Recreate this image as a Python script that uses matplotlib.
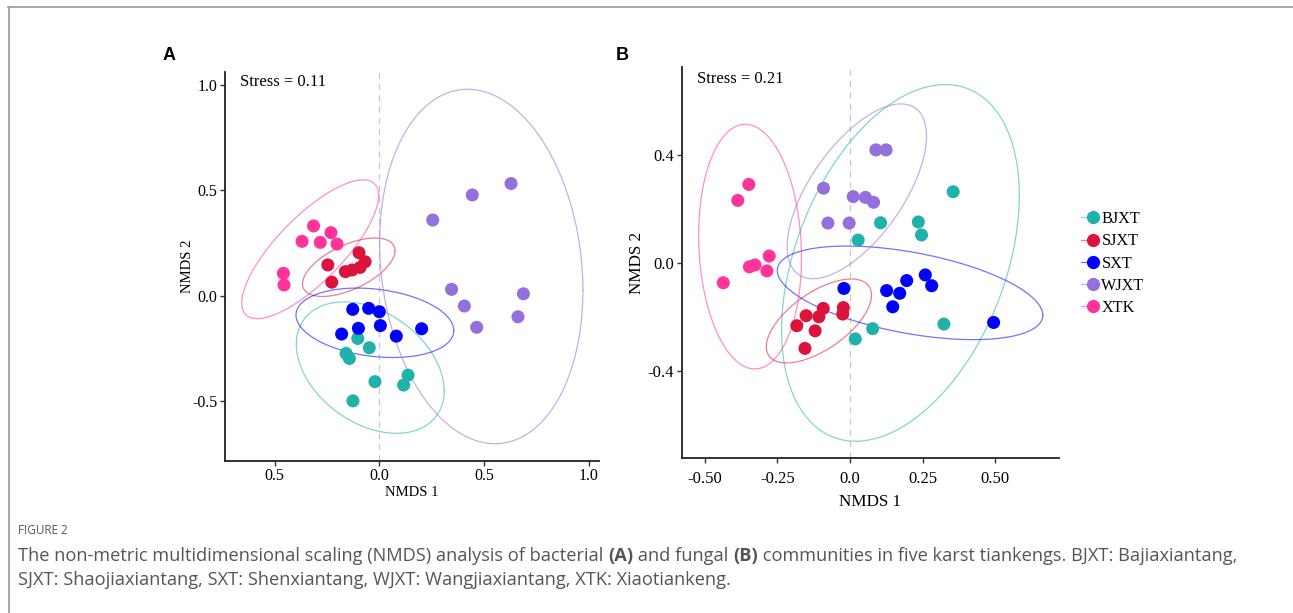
import numpy as np
import matplotlib
matplotlib.use("Agg")
import matplotlib.pyplot as plt
from matplotlib.lines import Line2D
from matplotlib.legend_handler import HandlerTuple

groups = ["BJXT", "SJXT", "SXT", "WJXT", "XTK"]
colors = ["#20B2AA", "#DC143C", "#0000FF", "#9370DB", "#FF3399"]

# ---------------- Panel A (bacteria) ----------------
a_bjxt_x = [-0.103, -0.048, -0.159, -0.143, -0.021, 0.137, 0.116, -0.126]
a_bjxt_y = [-0.203, -0.247, -0.274, -0.298, -0.408, -0.377, -0.424, -0.499]
a_sjxt_x = [-0.246, -0.227, -0.162, -0.130, -0.097, -0.068, -0.092]
a_sjxt_y = [0.146, 0.064, 0.114, 0.122, 0.204, 0.161, 0.134]
a_sxt_x = [-0.127, -0.051, 0.000, -0.100, 0.005, -0.180, 0.081, 0.202]
a_sxt_y = [-0.065, -0.060, -0.076, -0.155, -0.142, -0.182, -0.192, -0.157]
a_wjxt_x = [0.255, 0.444, 0.629, 0.345, 0.406, 0.465, 0.688, 0.662]
a_wjxt_y = [0.359, 0.478, 0.532, 0.030, -0.049, -0.150, 0.009, -0.100]
a_xtk_x = [-0.314, -0.231, -0.369, -0.282, -0.202, -0.458, -0.455]
a_xtk_y = [0.331, 0.299, 0.258, 0.253, 0.245, 0.106, 0.051]
a_xticks = [-0.5, 0.0, 0.5, 1.0]
a_xticklabels = ["0.5", "0.0", "0.5", "1.0"]
a_yticks = [-0.5, 0.0, 0.5, 1.0]
a_yticklabels = ["-0.5", "0.0", "0.5", "1.0"]
a_stress = "Stress = 0.11"

# ---------------- Panel B (fungi) ----------------
b_bjxt_x = [0.355, 0.235, 0.246, 0.105, 0.028, 0.323, 0.078, 0.018]
b_bjxt_y = [0.264, 0.152, 0.104, 0.149, 0.085, -0.226, -0.243, -0.281]
b_sjxt_x = [-0.092, -0.023, -0.025, -0.151, -0.107, -0.183, -0.120, -0.155]
b_sjxt_y = [-0.168, -0.165, -0.189, -0.195, -0.199, -0.232, -0.251, -0.316]
b_sxt_x = [-0.021, 0.126, 0.171, 0.195, 0.259, 0.281, 0.147, 0.494]
b_sxt_y = [-0.094, -0.102, -0.112, -0.065, -0.044, -0.084, -0.162, -0.220]
b_wjxt_x = [0.089, 0.124, -0.091, 0.011, 0.053, 0.081, -0.076, -0.003]
b_wjxt_y = [0.419, 0.419, 0.277, 0.246, 0.243, 0.225, 0.148, 0.148]
b_xtk_x = [-0.348, -0.386, -0.278, -0.327, -0.346, -0.286, -0.436]
b_xtk_y = [0.291, 0.232, 0.026, -0.007, -0.014, -0.029, -0.073]
b_xticks = [-0.5, -0.25, 0.0, 0.25, 0.5]
b_xticklabels = ["-0.50", "-0.25", "0.0", "0.25", "0.50"]
b_yticks = [-0.4, 0.0, 0.4]
b_yticklabels = ["-0.4", "0.0", "0.4"]
b_stress = "Stress = 0.21"

caption_head = "FIGURE 2"
caption_line1 = [("The non-metric multidimensional scaling (NMDS) analysis of bacterial ", "normal"),
                 ("(A)", "bold"), (" and fungal ", "normal"), ("(B)", "bold"),
                 (" communities in five karst tiankengs. BJXT: Bajiaxiantang,", "normal")]
caption_line2 = [("SJXT: Shaojiaxiantang, SXT: Shenxiantang, WJXT: Wangjiaxiantang, XTK: Xiaotiankeng.", "normal")]

SERIF = ["Liberation Serif", "DejaVu Serif"]


def ellipse_points(xs, ys, level=0.95, segments=200):
    # ggplot2 stat_ellipse(type = "norm")
    pts = np.column_stack([xs, ys]).astype(float)
    n = len(pts)
    dfd = n - 1
    qf = (dfd / 2.0) * ((1 - level) ** (-2.0 / dfd) - 1)
    radius = np.sqrt(2 * qf)
    center = pts.mean(axis=0)
    shape = np.cov(pts.T)
    R = np.linalg.cholesky(shape).T
    ang = np.linspace(0, 2 * np.pi, segments + 1)
    circ = np.column_stack([np.cos(ang), np.sin(ang)])
    ell = center + radius * (circ @ R)
    return ell[:, 0], ell[:, 1]


W, H = 1293, 613
fig = plt.figure(figsize=(W / 100, H / 100), dpi=100)


def panel(rect, data, xlim, ylim, xticks, xtl, yticks, ytl, stress, tick_fs, lab_fs,
          ylabpad, xlabpad, xpad, stress_y):
    ax = fig.add_axes(rect)
    ax.axvline(0, color="#C8C8C8", lw=0.9, ls=(0, (5, 4)), zorder=1)
    for (xs, ys), c in zip(data, colors):
        ex, ey = ellipse_points(xs, ys)
        ax.plot(ex, ey, color=c, lw=0.9, alpha=0.55, zorder=2)
    for (xs, ys), c in zip(data, colors):
        ax.scatter(xs, ys, s=88, color=c, edgecolors="none", zorder=3)
    ax.set_xlim(*xlim)
    ax.set_ylim(*ylim)
    ax.set_xticks(xticks)
    ax.set_xticklabels(xtl, family=SERIF, fontsize=tick_fs)
    ax.set_yticks(yticks)
    ax.set_yticklabels(ytl, family=SERIF, fontsize=tick_fs)
    for s in ["top", "right"]:
        ax.spines[s].set_visible(False)
    for s in ["left", "bottom"]:
        ax.spines[s].set_linewidth(1.3)
        ax.spines[s].set_color("#222222")
    ax.tick_params(direction="out", length=3.5, width=1.0, color="#333333", pad=2)
    ax.tick_params(axis="x", pad=xpad)
    ax.set_xlabel("NMDS 1", family=SERIF, fontsize=lab_fs, labelpad=xlabpad)
    ax.set_ylabel("NMDS 2", family=SERIF, fontsize=lab_fs, labelpad=ylabpad)
    ax.text(0.04, stress_y, stress, transform=ax.transAxes, family=SERIF, fontsize=12,
            va="top", ha="left")
    return ax


data_a = [(a_bjxt_x, a_bjxt_y), (a_sjxt_x, a_sjxt_y), (a_sxt_x, a_sxt_y),
          (a_wjxt_x, a_wjxt_y), (a_xtk_x, a_xtk_y)]
data_b = [(b_bjxt_x, b_bjxt_y), (b_sjxt_x, b_sjxt_y), (b_sxt_x, b_sxt_y),
          (b_wjxt_x, b_wjxt_y), (b_xtk_x, b_xtk_y)]

rectA = [225 / W, 1 - 460.7 / H, 374 / W, 388.4 / H]
rectB = [681.7 / W, 1 - 458.3 / H, 377.6 / W, 391.6 / H]
axA = panel(rectA, data_a, (-0.737, 1.049), (-0.783, 1.06), a_xticks, a_xticklabels,
            a_yticks, a_yticklabels, a_stress, 11.5, 10.5, -1.4, 1, 2, 0.995)
axB = panel(rectB, data_b, (-0.579, 0.72), (-0.723, 0.727), b_xticks, b_xticklabels,
            b_yticks, b_yticklabels, b_stress, 12, 12.3, 2.2, 5, 6, 0.99)

fig.text(163 / W, 1 - 55 / H, "A", family=["Liberation Sans", "DejaVu Sans"], fontweight="bold",
         fontsize=13, ha="left", va="center")
fig.text(616 / W, 1 - 55 / H, "B", family=["Liberation Sans", "DejaVu Sans"], fontweight="bold",
         fontsize=13, ha="left", va="center")

# legend
handles = []
for c in colors:
    ln = Line2D([], [], color=c, lw=0.9, alpha=0.55)
    mk = Line2D([], [], color=c, marker="o", markersize=8.5, linestyle="none")
    handles.append((ln, mk))
fig.legend(handles, groups, loc="center left", bbox_to_anchor=(1073 / W, 1 - 263.5 / H),
           frameon=False, prop={"family": SERIF, "size": 11.7}, handlelength=1.0,
           handletextpad=0.25, labelspacing=0.38, borderpad=0,
           handler_map={tuple: HandlerTuple(ndivide=None)})

# frame lines of the figure page
fig.add_artist(Line2D([8 / W, 1], [1 - 7 / H, 1 - 7 / H], color="#A0A0A0", lw=1.3))
fig.add_artist(Line2D([9 / W, 9 / W], [0, 1 - 7 / H], color="#A0A0A0", lw=1.3))

# caption
CAP = ["Open Sans", "DejaVu Sans"]
fig.text(18 / W, 1 - 530 / H, caption_head, family=CAP, fontsize=8.5, color="#555555",
         va="center", ha="left")

renderer = fig.canvas.get_renderer()


def draw_line(parts, y_px, fs):
    x = 18.0
    arts = []
    for txt, wt in parts:
        t = fig.text(x / W, 1 - y_px / H, txt, family=CAP, fontsize=fs, fontweight=wt,
                     color="#555555", va="center", ha="left")
        bb = t.get_window_extent(renderer=renderer)
        x += bb.width
        arts.append(t)
    return x, arts


end, arts = draw_line(caption_line1, 556, 11)
for a in arts:
    a.remove()
fs = 11 * (1243 - 18) / (end - 18)
draw_line(caption_line1, 556, fs)
draw_line(caption_line2, 580, fs)

fig.savefig("out.png", dpi=100)
